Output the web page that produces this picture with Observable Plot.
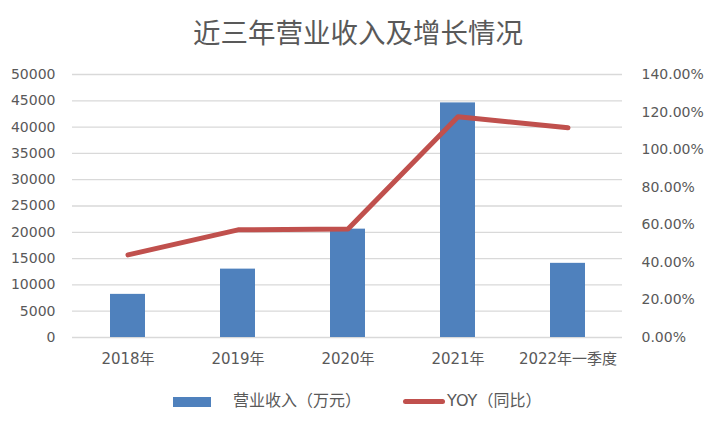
<!DOCTYPE html>
<html>
<head>
<meta charset="utf-8">
<script src="https://cdn.jsdelivr.net/npm/d3@7"></script>
<script src="https://cdn.jsdelivr.net/npm/@observablehq/plot@0.6"></script>
<style>
  html, body { margin: 0; padding: 0; background: #fff; }
  #wrap { position: relative; width: 716px; height: 430px; overflow: hidden; font-family: "DejaVu Sans", "Noto Sans CJK SC", sans-serif; color: #595959; }
  #title { position: absolute; left: 0; width: 716px; top: 17px; height: 28px; line-height: 28px; text-align: center; font-family: "Noto Sans CJK SC", sans-serif; font-size: 27.5px; color: #595959; }
  #chart { position: absolute; left: 0; top: 60px; }
  .leg { position: absolute; font-size: 16px; line-height: 18px; white-space: nowrap; }
</style>
</head>
<body>
<div id="wrap">
  <div id="title">近三年营业收入及增长情况</div>
  <div id="chart"></div>
  <div id="legend"></div>
</div>
<script>
// ---- data ----
const categories = ["2018年", "2019年", "2020年", "2021年", "2022年一季度"];
const revenue = [8200, 13000, 20600, 44600, 14100];       // 营业收入（万元）
const yoy = [0.44, 0.573, 0.577, 1.175, 1.116];            // YOY（同比）
const leftTicks = [0, 5000, 10000, 15000, 20000, 25000, 30000, 35000, 40000, 45000, 50000];
const rightTicks = [0, 0.2, 0.4, 0.6, 0.8, 1.0, 1.2, 1.4];
const seriesNames = ["营业收入（万元）", "YOY（同比）"];

const yMax = 50000, rMax = 1.4, K = yMax / rMax;
const data = categories.map((c, i) => ({cat: c, rev: revenue[i], yoy: yoy[i]}));

const chart = Plot.plot({
  width: 716,
  height: 320,
  marginTop: 14,
  marginBottom: 43,
  marginLeft: 72,
  marginRight: 94,
  style: {fontFamily: "'DejaVu Sans', 'Noto Sans CJK SC', sans-serif", fontSize: "14px", color: "#595959", background: "transparent"},
  x: {type: "band", domain: categories, paddingInner: 0.682, paddingOuter: 0.341, axis: null},
  y: {domain: [0, yMax], axis: null},
  marks: [
    Plot.gridY(leftTicks, {stroke: "#d9d9d9", strokeOpacity: 1, strokeWidth: 1.3}),
    Plot.barY(data, {x: "cat", y: "rev", fill: "#4F81BD"}),
    Plot.lineY(data, {x: "cat", y: d => d.yoy * K, stroke: "#C0504D", strokeWidth: 5, strokeLinecap: "round", strokeLinejoin: "round"}),
    Plot.axisX({tickSize: 0, tickPadding: 16, fontSize: 15, label: null}),
    Plot.axisY({anchor: "left", ticks: leftTicks, tickSize: 0, tickPadding: 17, tickFormat: d => String(d), label: null}),
    Plot.axisY({anchor: "right", ticks: rightTicks.map(t => t * K), tickSize: 0, tickPadding: 19,
      tickFormat: d => (d / K * 100).toFixed(2) + "%", label: null})
  ]
});
document.getElementById("chart").appendChild(chart);

// ---- legend ----
const leg = document.getElementById("legend");
leg.innerHTML = `
  <div style="position:absolute;left:173px;top:397px;width:38px;height:10px;background:#4F81BD"></div>
  <div class="leg" style="left:233px;top:392px">${seriesNames[0]}</div>
  <div style="position:absolute;left:403px;top:399px;width:42px;height:5px;border-radius:3px;background:#C0504D"></div>
  <div class="leg" style="left:447px;top:392px">${seriesNames[1]}</div>
`;
</script>
</body>
</html>
